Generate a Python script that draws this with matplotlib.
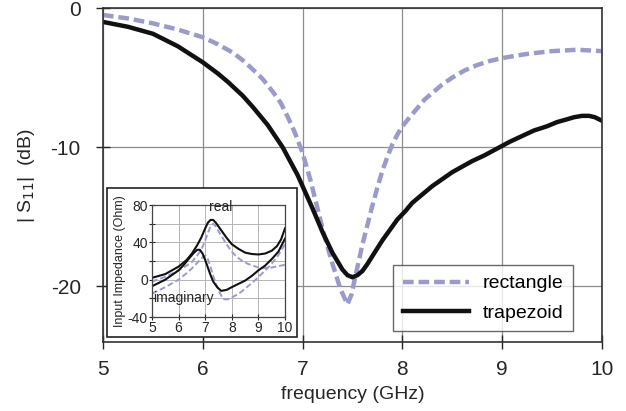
import matplotlib
matplotlib.use("Agg")
import matplotlib.pyplot as plt
from matplotlib.patches import Rectangle

plt.rcParams['font.family'] = ['Liberation Sans', 'DejaVu Sans']
plt.rcParams['axes.unicode_minus'] = False

# main plot: |S11| vs frequency
rect_f = [5.0, 5.25, 5.5, 5.75, 6.0, 6.15, 6.3, 6.4, 6.5, 6.6, 6.7, 6.78, 6.85, 6.92,
          7.0, 7.08, 7.15, 7.22, 7.3, 7.38, 7.45, 7.49, 7.52, 7.56, 7.6, 7.65, 7.7, 7.75,
          7.8, 7.85, 7.9, 7.95, 8.0, 8.08, 8.15, 8.22, 8.3, 8.4, 8.5, 8.62, 8.75, 8.88,
          9.0, 9.12, 9.25, 9.37, 9.5, 9.62, 9.75, 9.88, 10.0]
rect_s11 = [-0.5, -0.75, -1.1, -1.55, -2.1, -2.6, -3.2, -3.75, -4.4, -5.1, -6.0, -6.8,
            -7.8, -8.9, -10.4, -12.4, -14.4, -16.4, -18.4, -20.2, -21.3, -20.6, -19.6,
            -18.3, -17.0, -15.6, -14.2, -12.9, -11.7, -10.7, -9.8, -9.1, -8.5, -7.8,
            -7.2, -6.6, -6.1, -5.5, -5.0, -4.5, -4.1, -3.8, -3.6, -3.45, -3.3, -3.2,
            -3.1, -3.05, -3.0, -3.05, -3.1]

trap_f = [5.0, 5.25, 5.5, 5.75, 6.0, 6.15, 6.25, 6.4, 6.5, 6.65, 6.8, 6.95, 7.1, 7.2,
          7.3, 7.4, 7.45, 7.5, 7.55, 7.6, 7.65, 7.72, 7.8, 7.88, 7.95, 8.03, 8.1, 8.2,
          8.3, 8.4, 8.5, 8.6, 8.7, 8.82, 8.95, 9.08, 9.2, 9.32, 9.45, 9.55, 9.65, 9.72,
          9.8, 9.87, 9.93, 10.0]
trap_s11 = [-1.0, -1.35, -1.85, -2.75, -3.9, -4.7, -5.3, -6.3, -7.1, -8.4, -10.0, -12.0,
            -14.4, -16.1, -17.6, -18.8, -19.2, -19.35, -19.2, -18.9, -18.4, -17.6, -16.7,
            -15.9, -15.2, -14.6, -14.0, -13.4, -12.8, -12.3, -11.8, -11.4, -11.0, -10.6,
            -10.1, -9.6, -9.2, -8.8, -8.5, -8.2, -8.0, -7.85, -7.75, -7.75, -7.85, -8.1]

# inset: input impedance (Ohm)
trap_re_f = [5.0, 5.5, 6.0, 6.3, 6.5, 6.7, 6.85, 7.0, 7.1, 7.2, 7.3, 7.4, 7.6, 7.8, 8.0,
             8.25, 8.5, 8.75, 9.0, 9.25, 9.5, 9.7, 9.85, 10.0]
trap_re = [2, 6, 14, 21, 28, 37, 45, 55, 61, 64, 64, 61, 53, 45, 38, 33, 29, 27.5, 27,
           28, 31, 36, 43, 55]
trap_im_f = [5.0, 5.5, 6.0, 6.2, 6.4, 6.55, 6.7, 6.8, 6.9, 7.0, 7.1, 7.2, 7.3, 7.45, 7.6,
             7.8, 8.0, 8.25, 8.5, 8.75, 9.0, 9.25, 9.5, 9.75, 10.0]
trap_im = [-7, 0, 10, 16, 23, 28, 32, 32, 28, 21, 13, 5, -2, -8, -12, -11, -8, -4.5, -1,
           4, 10, 15, 22, 30, 44]
rect_re_f = [5.0, 5.5, 6.0, 6.3, 6.5, 6.7, 6.8, 6.9, 7.0, 7.1, 7.2, 7.3, 7.4, 7.5, 7.65,
             7.8, 8.0, 8.2, 8.4, 8.6, 8.8, 9.0, 9.25, 9.5, 9.75, 10.0]
rect_re = [-2, 3, 10, 15, 19, 26, 30, 35, 42, 50, 57, 60, 57, 52, 45, 38, 30, 24, 20, 17,
           15, 13, 12.5, 13, 14.5, 16]
rect_im_f = [5.0, 5.5, 6.0, 6.3, 6.5, 6.7, 6.8, 6.9, 7.0, 7.1, 7.2, 7.3, 7.45, 7.6, 7.7,
             7.85, 8.0, 8.2, 8.4, 8.65, 8.9, 9.15, 9.4, 9.7, 10.0]
rect_im = [-15, -8, 0, 7, 12, 18, 21, 24, 26, 22, 14, 4, -8, -17, -21, -21, -19, -16,
           -12, -6, 0, 7, 14, 24, 38]

dash_col = '#9b9bcb'
txt_col = '#262626'

fig = plt.figure(figsize=(6.26, 4.11), dpi=100)
ax = fig.add_axes([0.1645, 0.168, 0.797, 0.8125])
ax.plot(rect_f, rect_s11, color=dash_col, lw=3.2, dashes=(2.4, 1.1), label='rectangle')
ax.plot(trap_f, trap_s11, color='#111111', lw=3.2, label='trapezoid')
ax.set_xlim(5, 10)
ax.set_ylim(-24, 0)
ax.set_xticks([5, 6, 7, 8, 9, 10])
ax.set_yticks([0, -10, -20])
ax.grid(True, color='#8c8c8c', lw=0.9)
ax.tick_params(direction='inout', length=10, width=1, labelsize=15, colors=txt_col)
ax.tick_params(axis='x', pad=8)
ax.tick_params(axis='y', pad=11)
for s in ax.spines.values():
    s.set_linewidth(1.2)
    s.set_color('#333333')
ax.set_xlabel('frequency (GHz)', fontsize=14, color=txt_col, labelpad=5)
ax.set_ylabel(r'| S$_{11}$|  (dB)', fontsize=14, color=txt_col, labelpad=10)
leg = ax.legend(loc='upper left', fontsize=14, frameon=True, fancybox=False,
                edgecolor='#444444', handlelength=3.4, borderpad=0.5,
                labelspacing=0.6, handletextpad=0.7, borderaxespad=0)
leg.get_frame().set_linewidth(1.0)
leg.set_bbox_to_anchor((0.628, 0.355), transform=fig.transFigure)

# inset frame
fig.patches.append(Rectangle((0.171, 0.180), 0.3035, 0.3625, transform=fig.transFigure,
                             facecolor='white', edgecolor='#222222', lw=1.2, zorder=3))

ins = fig.add_axes([0.2428, 0.2287, 0.2125, 0.2725], zorder=4)
ins.plot(rect_re_f, rect_re, color=dash_col, lw=1.4, dashes=(3, 1.5))
ins.plot(rect_im_f, rect_im, color=dash_col, lw=1.4, dashes=(3, 1.5))
ins.plot(trap_re_f, trap_re, color='#111111', lw=1.5)
ins.plot(trap_im_f, trap_im, color='#111111', lw=1.5)
ins.set_xlim(5, 10)
ins.set_ylim(-40, 80)
ins.set_xticks([5, 6, 7, 8, 9, 10])
ins.set_yticks([-40, -20, 0, 20, 40, 60, 80])
ins.set_yticklabels(['-40', '', '0', '', '40', '', '80'])
ins.grid(True, color='#b5b5b5', lw=0.7)
ins.tick_params(direction='inout', length=4, width=0.8, labelsize=10, pad=1, colors=txt_col)
for s in ins.spines.values():
    s.set_linewidth(0.9)
    s.set_color('#444444')
ins.set_ylabel('Input Impedance (Ohm)', fontsize=9, color=txt_col, labelpad=1)
ins.text(7.15, 70, 'real', fontsize=10, color=txt_col, ha='left', va='bottom')
ins.text(5.05, -20, 'imaginary', fontsize=10, color=txt_col, ha='left', va='center')

fig.savefig('out.png', dpi=100)
